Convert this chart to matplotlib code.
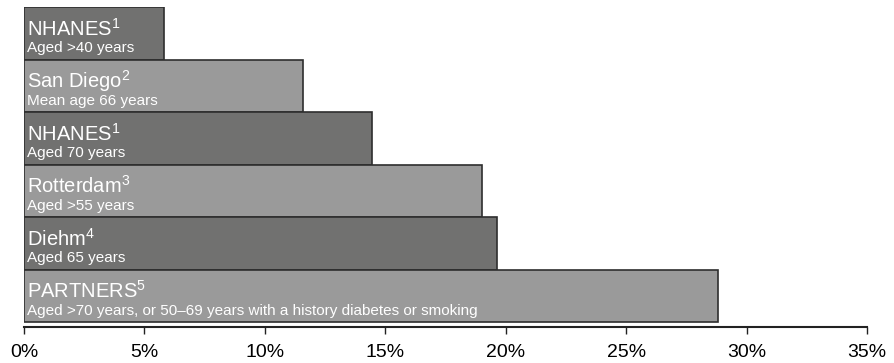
import matplotlib
matplotlib.use("Agg")
import matplotlib.pyplot as plt

# studies, top to bottom
studies = ["NHANES", "San Diego", "NHANES", "Rotterdam", "Diehm", "PARTNERS"]
refs = ["1", "2", "1", "3", "4", "5"]
details = [
    "Aged >40 years",
    "Mean age 66 years",
    "Aged 70 years",
    "Aged >55 years",
    "Aged 65 years",
    "Aged >70 years, or 50\u201369 years with a history diabetes or smoking",
]
prevalence = [5.8, 11.6, 14.45, 19.0, 19.65, 28.8]
ticks = [0, 5, 10, 15, 20, 25, 30, 35]

plt.rcParams["font.family"] = ["Liberation Sans", "DejaVu Sans"]
plt.rcParams["mathtext.fontset"] = "custom"
plt.rcParams["mathtext.rm"] = "Liberation Sans"
plt.rcParams["mathtext.default"] = "regular"

fig = plt.figure(figsize=(8.94, 3.63), dpi=100)
ax = fig.add_axes([24 / 894, 1 - 327 / 363, 843 / 894, 320 / 363])

n = len(studies)
ypos = [n - 1 - i for i in range(n)]
colors = ["#717170" if i % 2 == 0 else "#9a9a9a" for i in range(n)]

ax.barh(ypos, prevalence, height=1.0, color=colors, edgecolor="#2e2e2e",
        linewidth=1.2, align="center")

for y, s, r, d in zip(ypos, studies, refs, details):
    ax.annotate(s + "$^{" + r + "}$", xy=(0, y + 0.5), xytext=(2.5, -20.5),
                textcoords="offset points", color="white", fontsize=14.5,
                ha="left", va="baseline")
    ax.annotate(d, xy=(0, y + 0.5), xytext=(2.5, -32.5),
                textcoords="offset points", color="white", fontsize=11,
                ha="left", va="baseline")

ax.set_xlim(0, 35)
ax.set_ylim(-0.595, n - 0.5)
ax.set_xticks(ticks)
ax.set_xticklabels([f"{t}%" for t in ticks], fontsize=14)
ax.set_yticks([])
for side in ["top", "right", "left"]:
    ax.spines[side].set_visible(False)
ax.spines["bottom"].set_color("#222222")
ax.spines["bottom"].set_linewidth(1.5)
ax.tick_params(axis="x", direction="out", length=5, width=1, color="#222222", pad=7)

fig.savefig("out.png", dpi=100)
